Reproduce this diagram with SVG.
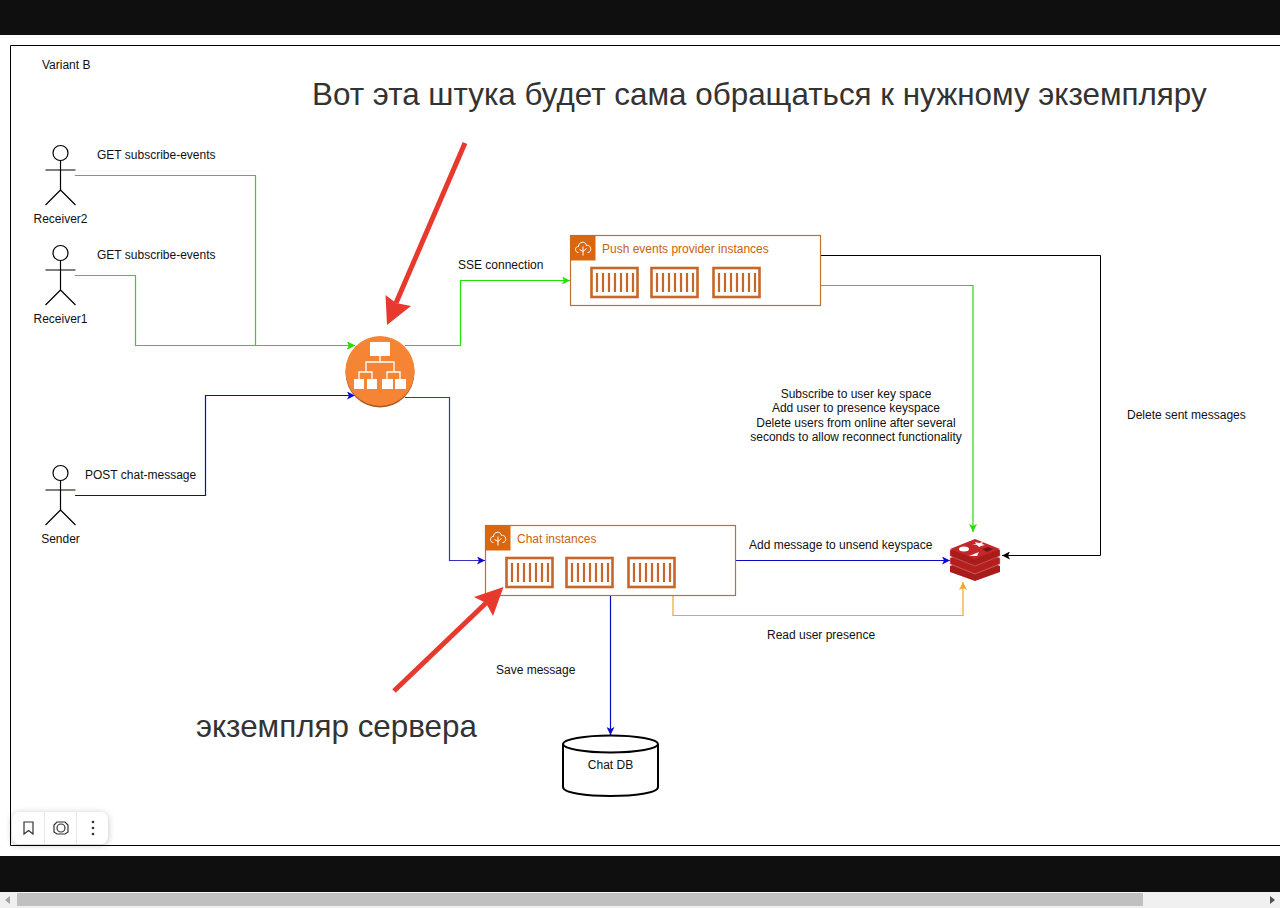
<svg xmlns="http://www.w3.org/2000/svg" width="1280" height="908" viewBox="0 0 1280 908">
<style>
text{font-family:"Liberation Sans",Arial,sans-serif;font-size:12px;fill:#111}
.m{text-anchor:middle}
.big{font-size:31.400px;fill:#333}
.t{font-size:12px;fill:#c9620f}
.c{fill:none;stroke-width:1.2}
.k{fill:none;stroke:#000;stroke-width:1}
.actor{fill:none;stroke:#000;stroke-width:1.2}
.box{fill:#fff;stroke:#c0702c;stroke-width:1.200}
.cont{fill:none;stroke:#c8662a;stroke-width:2.6}
.bars{stroke:#c8662a;stroke-width:2.2;fill:none}
.ic{fill:none;stroke:#fff;stroke-width:1}
</style>
<defs>
<marker id="ag" markerWidth="9" markerHeight="8" refX="8" refY="4" orient="auto" markerUnits="userSpaceOnUse"><path d="M0,0L8,4L0,8L2,4z" fill="#22e000"/></marker>
<marker id="ab" markerWidth="9" markerHeight="8" refX="8" refY="4" orient="auto" markerUnits="userSpaceOnUse"><path d="M0,0L8,4L0,8L2,4z" fill="#0a0ad0"/></marker>
<marker id="ak" markerWidth="9" markerHeight="8" refX="8" refY="4" orient="auto" markerUnits="userSpaceOnUse"><path d="M0,0L8,4L0,8L2,4z" fill="#000"/></marker>
<marker id="ao" markerWidth="9" markerHeight="8" refX="8" refY="4" orient="auto" markerUnits="userSpaceOnUse"><path d="M0,0L8,4L0,8L2,4z" fill="#f5a623"/></marker>
<g id="actor"><circle cx="0" cy="8" r="7.500" class="actor"/><path class="actor" d="M0,15.500V45M-15,25H15M0,45L-15,60M0,45L15,60"/></g>
<g id="containers">
<rect x="0.500" y="0" width="46" height="29" class="cont"/>
<path class="bars" d="M6,5V24M12,5V24M18,5V24M24,5V24M30,5V24M36,5V24M42,5V24"/>
</g>
<g id="cloud"><rect width="25" height="25" fill="#d9670f"/><path class="ic" d="M8,17C4,17 4,11 8,11C8,6 15,5 16,10C21,9 22,17 17,17M12.500,20V11M9,14L12.500,16L16,13"/></g>
</defs>
<rect width="1280" height="908" fill="#fff"/>
<rect width="1280" height="35" fill="#0f0f0f"/>
<rect y="856" width="1280" height="36" fill="#0f0f0f"/>
<rect y="892" width="1280" height="16" fill="#f0f0f0"/>
<rect x="17" y="893" width="1126" height="13" fill="#c0c0c0"/>
<path d="M5,900L10,896V904z" fill="#a3a3a3"/><path d="M1275,900L1270,896V904z" fill="#505050"/>
<path d="M1280,45.500H10.500V845.500H1280" fill="none" stroke="#000"/>
<text x="42" y="69">Variant B</text>

<g id="connectors">
<path class="c" stroke="#22e000" d="M75,175.500H255.500V345.500H355" marker-end="url(#ag)"/>
<path class="c" stroke="#22e000" d="M75,275.500H135.500V345.500H355" marker-end="url(#ag)"/>
<path class="c" stroke="#22e000" d="M405,345.500H460.500V280.500H570" marker-end="url(#ag)"/>
<path class="c" stroke="#0a0ac0" d="M75,495.500H205.500V395.500H355" marker-end="url(#ab)"/>
<path class="c" stroke="#3a2fc0" d="M405,397.500H449.500V560.500H485" marker-end="url(#ab)"/>
<path class="c" stroke="#22e000" d="M820,285.500H973V532" marker-end="url(#ag)"/>
<path class="k" d="M820,255.500H1100.500V555.500H1002" marker-end="url(#ak)"/>
<path class="c" stroke="#0a0ac0" d="M735,560.500H950" marker-end="url(#ab)"/>
<path class="c" stroke="#f5a623" d="M673,595V615.500H963V582" marker-end="url(#ao)"/>
<path class="c" stroke="#0a0ac0" d="M610.500,595V735" marker-end="url(#ab)"/>
</g>

<g id="receiver2"><use href="#actor" x="60.500" y="145"/><text class="m" x="60.500" y="223">Receiver2</text></g>
<g id="receiver1"><use href="#actor" x="60.500" y="245"/><text class="m" x="60.500" y="323">Receiver1</text></g>
<g id="sender"><use href="#actor" x="60.500" y="465"/><text class="m" x="60.500" y="543">Sender</text></g>

<text x="97" y="159">GET subscribe-events</text>
<text x="97" y="259">GET subscribe-events</text>
<text x="85" y="479">POST chat-message</text>
<text x="458" y="269">SSE connection</text>
<text class="m" x="856" y="398">Subscribe to user key space</text>
<text class="m" x="856" y="412">Add user to presence keyspace</text>
<text class="m" x="856" y="427">Delete users from online after several</text>
<text class="m" x="856" y="441">seconds to allow reconnect functionality</text>
<text x="1127" y="419">Delete sent messages</text>
<text x="749" y="549">Add message to unsend keyspace</text>
<text x="767" y="639">Read user presence</text>
<text x="496" y="674">Save message</text>

<g id="balancer">
<ellipse cx="380" cy="372.500" rx="34.500" ry="35" fill="#a85a1c"/>
<ellipse cx="380" cy="371" rx="34.500" ry="35" fill="#f58535"/>
<g fill="#fff"><rect x="370" y="342" width="20" height="14"/><rect x="354" y="379" width="10" height="10"/><rect x="367" y="379" width="10" height="10"/><rect x="382" y="379" width="11" height="10"/><rect x="395" y="379" width="11" height="10"/></g>
<path d="M380,356V362M366,372V362H394V372M359,379V372H372V379M387,379V372H400V379" fill="none" stroke="#fff" stroke-width="1.300"/>
</g>

<g id="push-events">
<rect class="box" x="570.500" y="235.500" width="250" height="70"/>
<use href="#cloud" x="570.500" y="235.500"/>
<text class="t" x="602" y="253">Push events provider instances</text>
<use href="#containers" x="591" y="268"/><use href="#containers" x="651" y="268"/><use href="#containers" x="713" y="268"/>
</g>
<g id="chat-instances">
<rect class="box" x="485.500" y="525.500" width="250" height="70"/>
<use href="#cloud" x="485.500" y="525.500"/>
<text class="t" x="517" y="543">Chat instances</text>
<use href="#containers" x="506" y="558"/><use href="#containers" x="566" y="558"/><use href="#containers" x="628" y="558"/>
</g>

<g id="redis">
<path d="M950,566L975,556L1000,566V572L975,581L950,572z" fill="#a81c1c"/>
<path d="M950,558L975,548L1000,558V564L975,574L950,564z" fill="#b5201f" stroke="#e59a9a" stroke-width=".5"/>
<path d="M950,550L975,540L1000,550V556L975,566L950,556z" fill="#a81c1c" stroke="#e59a9a" stroke-width=".4"/>
<path d="M950,549L975,539L1000,549L975,559z" fill="#c5262a"/>
<ellipse cx="964" cy="549" rx="5" ry="2.500" fill="#fff"/>
<path d="M972,544L976,544L975,542L979,543L983,542L982,544L985,545L981,546L979,547L977,545z" fill="#fff"/>
<path d="M969,556L979,552L977,556z" fill="#fff"/>
<path d="M982,549L988,547L993,549L987,552z" fill="#7a1414"/>
</g>

<g id="chat-db">
<path d="M563,744V787C563,799 658,799 658,787V744" fill="#fff" stroke="#000" stroke-width="2"/>
<ellipse cx="610.500" cy="744" rx="47.500" ry="8.500" fill="#fff" stroke="#000" stroke-width="2"/>
<text class="m" x="610.500" y="769">Chat DB</text>
</g>

<g id="annotations">
<text class="big" x="312" y="105">Вот эта штука будет сама обращаться к нужному экземпляру</text>
<text class="big" x="196" y="737">экземпляр сервера</text>
<path d="M465,143L396,303" stroke="#e8392f" stroke-width="5" fill="none"/>
<path d="M387,325L385.500,295L396,303L411,306z" fill="#e8392f"/>
<path d="M394,691L486,603" stroke="#e8392f" stroke-width="5" fill="none"/>
<path d="M503.500,587L474,597L486,603L493,616z" fill="#e8392f"/>
</g>

<g id="toolbar">
<rect x="12" y="812" width="96" height="32" rx="7" fill="#fff" style="filter:drop-shadow(0 1px 3px rgba(0,0,0,.25))"/>
<path d="M44.500,812V844M76.500,812V844" stroke="#e6e6e6"/>
<path d="M24,822H33V834L28.500,830.500L24,834z" fill="none" stroke="#333" stroke-width="1.200"/>
<path d="M54,825L57,822H65L68,825V832L65,834H57L54,832z" fill="none" stroke="#333" stroke-width="1.200"/>
<circle cx="61" cy="828" r="4" fill="none" stroke="#333" stroke-width="1.200"/>
<g fill="#333"><circle cx="93" cy="822" r="1.300"/><circle cx="93" cy="828" r="1.300"/><circle cx="93" cy="834" r="1.300"/></g>
</g>
</svg>
